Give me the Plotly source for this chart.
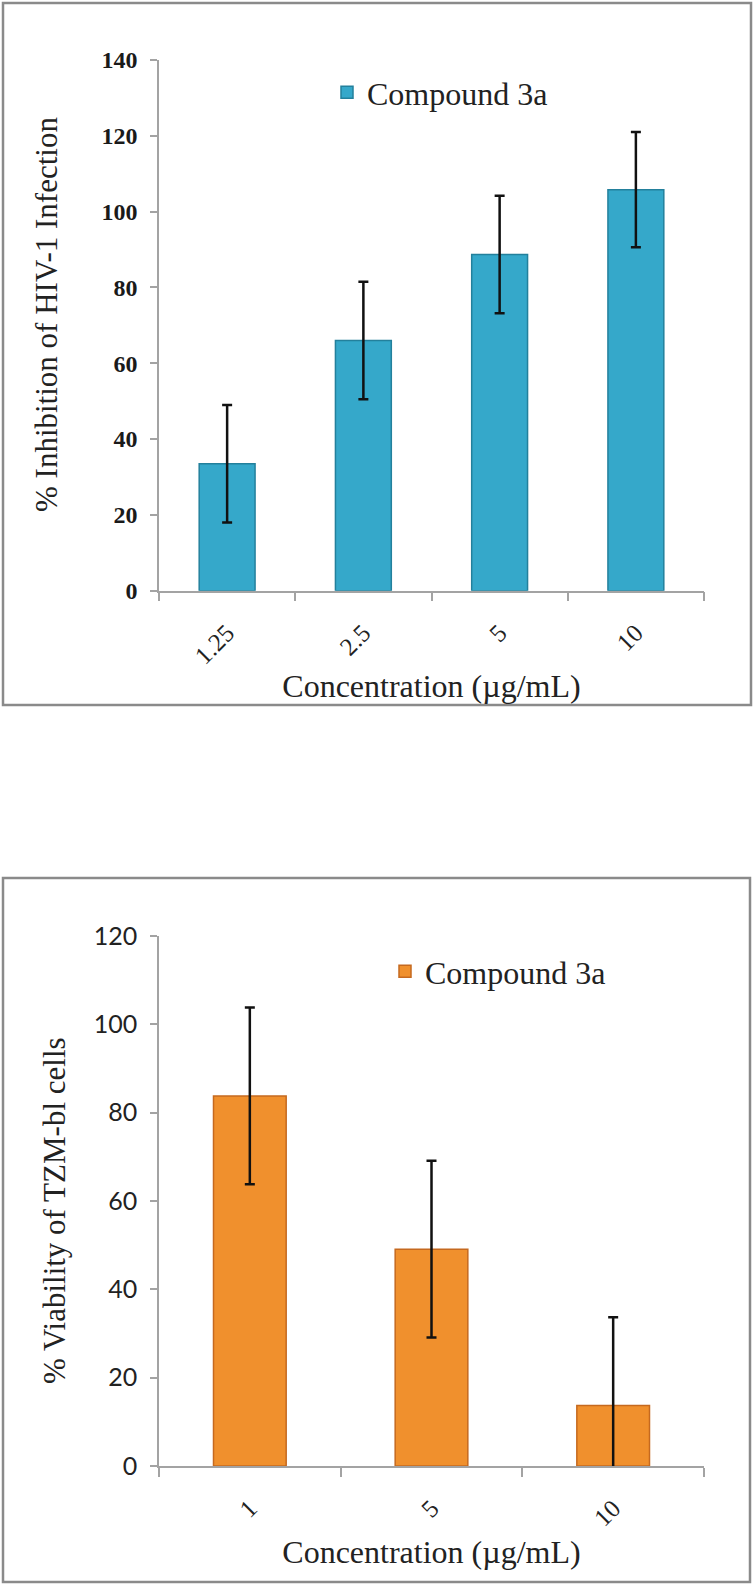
import plotly.graph_objects as go

# ---- data ----
conc_top = ["1.25", "2.5", "5", "10"]
inhibition = [33.5, 66.0, 88.7, 105.8]
inhibition_err = [15.5, 15.5, 15.5, 15.2]

conc_bottom = ["1", "5", "10"]
viability = [83.8, 49.1, 13.7]
viability_err = [20.0, 20.0, 20.0]

W, H = 754, 1585

def px_x(v):
    return v / W

def px_y(v):
    return 1 - v / H

serif = "Liberation Serif"

fig = go.Figure()

fig.add_trace(go.Bar(
    x=conc_top, y=inhibition, name="Compound 3a",
    error_y=dict(type="data", array=inhibition_err, color="#111111", thickness=2.5, width=5),
    marker=dict(color="#35a8ca", line=dict(color="#23809c", width=1.5)),
    width=0.41, xaxis="x", yaxis="y", legend="legend",
))

fig.add_trace(go.Bar(
    x=conc_bottom, y=viability, name="Compound 3a",
    error_y=dict(type="data", array=viability_err, color="#111111", thickness=2.5, width=5),
    marker=dict(color="#f0902d", line=dict(color="#c5691f", width=1.5)),
    width=0.40, xaxis="x2", yaxis="y2", legend="legend2",
))

axis_grey = "#a3a3a3"
common_x = dict(type="category", showline=True, linecolor=axis_grey, linewidth=1.5,
                ticks="outside", tickson="boundaries", ticklen=9, tickcolor=axis_grey,
                tickwidth=1.5, showgrid=False, zeroline=False, tickangle=-45,
                automargin=False, ticklabelstandoff=16,
                tickfont=dict(family=serif, size=25, color="#222222"))
common_y = dict(showline=True, linecolor=axis_grey, linewidth=1.5, ticks="outside",
                ticklen=7, tickcolor=axis_grey, tickwidth=1.5, showgrid=False,
                zeroline=False, dtick=20, automargin=False)

title_font = dict(family=serif, size=31, color="#222222")

fig.update_layout(
    width=W, height=H, margin=dict(l=0, r=0, t=0, b=0, pad=0, autoexpand=False),
    paper_bgcolor="white", plot_bgcolor="white", bargap=0.59,
    showlegend=True,
    xaxis=dict(common_x, domain=[px_x(159), px_x(704)], anchor="y",
               title=dict(text="Concentration (µg/mL)",
                          font=dict(family=serif, size=32, color="#222222"), standoff=6)),
    yaxis=dict(common_y, domain=[px_y(590.7), px_y(60)], range=[0, 140], anchor="x",
               tickfont=dict(family=serif, size=24, color="#1a1a1a", weight="bold"),
               ticklabelstandoff=8),
    xaxis2=dict(common_x, domain=[px_x(159), px_x(704)], anchor="y2",
                title=dict(text="Concentration (µg/mL)",
                           font=dict(family=serif, size=32, color="#222222"), standoff=10)),
    yaxis2=dict(common_y, domain=[px_y(1466), px_y(936)], range=[0, 120], anchor="x2",
                tickfont=dict(family="Lato", size=25, color="#222222"),
                ticklabelstandoff=8),
    legend=dict(x=px_x(327), y=px_y(65), xanchor="left", yanchor="top",
                font=dict(family=serif, size=32, color="#222222"), bgcolor="rgba(0,0,0,0)"),
    legend2=dict(x=px_x(385), y=px_y(944), xanchor="left", yanchor="top",
                 font=dict(family=serif, size=32, color="#222222"), bgcolor="rgba(0,0,0,0)"),
    annotations=[
        dict(text="% Inhibition of HIV-1 Infection", textangle=-90, showarrow=False,
             xref="paper", yref="paper", x=px_x(46), y=px_y(315),
             xanchor="center", yanchor="middle", font=title_font),
        dict(text="% Viability of TZM-bl cells", textangle=-90, showarrow=False,
             xref="paper", yref="paper", x=px_x(54), y=px_y(1211),
             xanchor="center", yanchor="middle", font=title_font),
    ],
    shapes=[
        dict(type="rect", xref="paper", yref="paper", x0=px_x(3), x1=px_x(751),
             y0=px_y(705), y1=px_y(3), line=dict(color="#8a8a8a", width=2.5)),
        dict(type="rect", xref="paper", yref="paper", x0=px_x(3), x1=px_x(750),
             y0=px_y(1582), y1=px_y(878), line=dict(color="#8a8a8a", width=2.5)),
    ],
)

fig.write_html("out.html", config={"displayModeBar": False},
               post_script="document.body.style.margin='0px';")
